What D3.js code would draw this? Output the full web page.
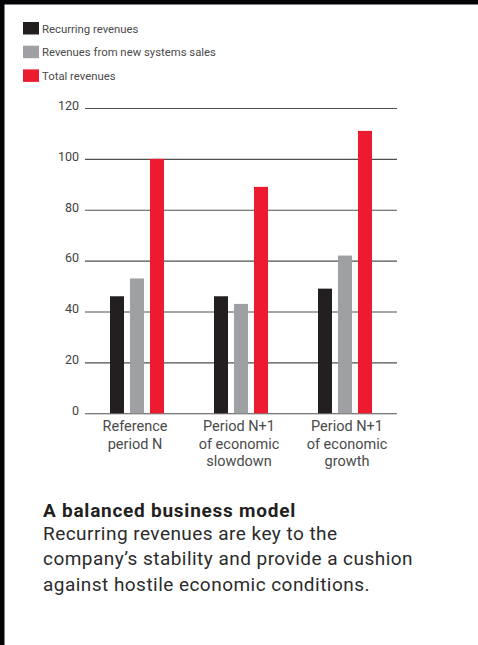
<!DOCTYPE html>
<html>
<head>
<meta charset="utf-8">
<script src="https://cdn.jsdelivr.net/npm/d3@7"></script>
<style>
  html, body { margin: 0; padding: 0; background: #fff; }
  svg { display: block; }
</style>
</head>
<body>
<svg id="chart" width="478" height="645"></svg>
<script>
// Revenue scenarios: recurring vs. new systems vs. total
const categories = [
  ["Reference", "period N"],
  ["Period N+1", "of economic", "slowdown"],
  ["Period N+1", "of economic", "growth"]
];
const seriesNames = ["Recurring revenues", "Revenues from new systems sales", "Total revenues"];
const recurring = [46, 46, 49];
const newSystems = [53, 43, 62];
const total = [100, 89, 111];
const yTicks = [0, 20, 40, 60, 80, 100, 120];
const title = "A balanced business model";
const bodyLines = [
  "Recurring revenues are key to the",
  "company\u2019s stability and provide a cushion",
  "against hostile economic conditions."
];

const colors = ["#231f20", "#9fa0a4", "#ed1b2f"];
const font = "Roboto, 'Open Sans', sans-serif";
const series = [recurring, newSystems, total];

const svg = d3.select("#chart");

// frame edges
svg.append("rect").attr("x", 0).attr("y", 0).attr("width", 478).attr("height", 4.5).attr("fill", "#050508");
svg.append("rect").attr("x", 0).attr("y", 0).attr("width", 4.5).attr("height", 645).attr("fill", "#050508");

// fit text to a target width by adjusting font size
function fitWidth(sel, w) {
  sel.each(function () {
    const n = d3.select(this);
    const fs = parseFloat(n.attr("font-size"));
    const cur = this.getComputedTextLength();
    if (cur > 0) n.attr("font-size", (fs * w / cur).toFixed(2));
  });
}
// spread letters so a line reaches a target width; returns the spacing used
function fitSpacing(node, w) {
  const cur = node.getComputedTextLength();
  const n = node.textContent.length;
  const ls = Math.max(0, (w - cur) / n);
  d3.select(node).attr("letter-spacing", ls.toFixed(3));
  return ls;
}

// legend
const legend = svg.append("g");
seriesNames.forEach((name, i) => {
  const y = 22 + i * 23.7;
  legend.append("rect").attr("x", 23).attr("y", y).attr("width", 16).attr("height", 12.5).attr("fill", colors[i]);
  legend.append("text").attr("x", 42).attr("y", y + 10.5)
    .attr("font-family", font).attr("font-size", 11).attr("fill", "#4a4a4a")
    .text(name);
});
fitWidth(legend.selectAll("text").filter((d, i) => i === 1), 174);
const lfs = legend.selectAll("text").filter((d, i) => i === 1).attr("font-size");
legend.selectAll("text").attr("font-size", lfs);

// scales
const y = d3.scaleLinear().domain([0, 120]).range([413.3, 108]);
const groupCenters = [137, 241, 345];
const x1 = d3.scaleBand().domain(d3.range(series.length)).range([-27, 27]).paddingInner(0.3).paddingOuter(0);

// gridlines + y labels via axis
const yAxis = d3.axisLeft(y).tickValues(yTicks).tickSize(-(397 - 85)).tickPadding(6).tickFormat(d3.format("d"));
const ag = svg.append("g").attr("transform", "translate(85,0)").call(yAxis);
ag.select(".domain").remove();
ag.selectAll(".tick line").attr("stroke", "#4f4f4f").attr("stroke-width", 1.1);
ag.selectAll(".tick text").attr("font-family", font).attr("font-size", 12.5).attr("fill", "#3f3f3f").attr("dy", "0.1em");

// bars
const bars = svg.append("g");
categories.forEach((c, ci) => {
  series.forEach((s, si) => {
    bars.append("rect")
      .attr("x", groupCenters[ci] + x1(si))
      .attr("y", y(s[ci]))
      .attr("width", x1.bandwidth())
      .attr("height", y(0) - y(s[ci]))
      .attr("fill", colors[si]);
  });
});

// category labels
const labelCenters = [135, 239, 347];
const cl = svg.append("g");
categories.forEach((lines, ci) => {
  lines.forEach((ln, li) => {
    cl.append("text").attr("x", labelCenters[ci]).attr("y", 431 + li * 17.5)
      .attr("text-anchor", "middle")
      .attr("font-family", font).attr("font-size", 14).attr("fill", "#4a4a4a")
      .text(ln);
  });
});
fitWidth(cl.selectAll("text").filter((d, i) => i === 0), 65);
cl.selectAll("text").attr("font-size", cl.select("text").attr("font-size"));

// caption
const cap = svg.append("g");
const ttl = cap.append("text").attr("x", 43).attr("y", 517)
  .attr("font-family", font).attr("font-size", 19).attr("font-weight", 700).attr("fill", "#231f20")
  .text(title);
fitSpacing(ttl.node(), 253);
const bd = bodyLines.map((ln, i) =>
  cap.append("text").attr("x", 43).attr("y", 540 + i * 25.3)
    .attr("font-family", font).attr("font-size", 19).attr("fill", "#2b2b2b")
    .text(ln));
const ls = fitSpacing(bd[1].node(), 370);
bd.forEach(t => t.attr("letter-spacing", ls.toFixed(3)));
</script>
</body>
</html>
